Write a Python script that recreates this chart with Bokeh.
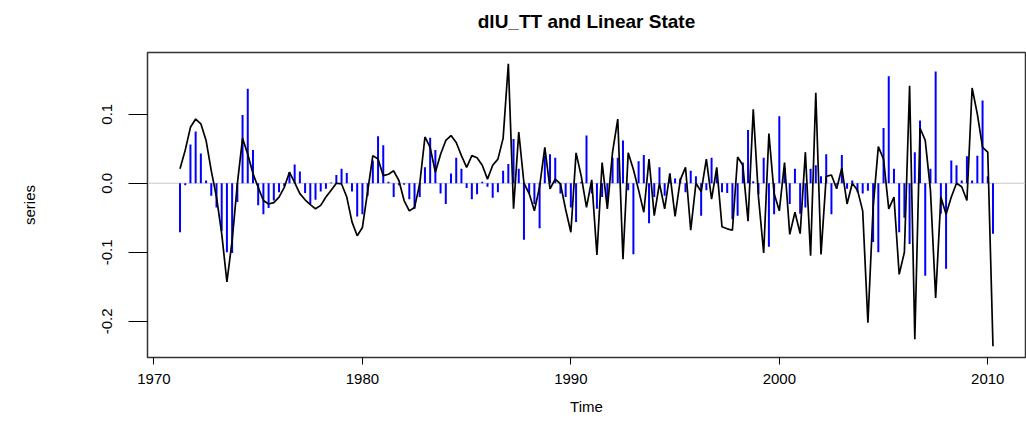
from bokeh.plotting import figure
from bokeh.models import Range1d, FixedTicker, PrintfTickFormatter, Span, Title
from bokeh.embed import file_html
from bokeh.resources import INLINE

# quarterly series starting 1971 Q2
start_year = 1971
start_quarter = 2
freq = 4

series = [
    -0.071, -0.003, 0.056, 0.075, 0.043, 0.004, -0.018, -0.035, -0.069, -0.100,
    -0.101, -0.027, 0.099, 0.137, 0.048, -0.032, -0.045, -0.036, -0.025, -0.013,
    -0.004, 0.016, 0.027, 0.017, -0.014, -0.030, -0.024, -0.012, -0.008, 0.001,
    0.012, 0.021, 0.015, -0.012, -0.048, -0.045, -0.018, 0.033, 0.068, 0.055,
    0.002, -0.020, -0.003, -0.002, -0.023, -0.037, -0.020, 0.023, 0.066, 0.048,
    -0.015, -0.030, 0.014, 0.037, 0.021, -0.007, -0.023, -0.016, 0.002, -0.005,
    -0.021, -0.013, 0.018, 0.028, 0.064, 0.021, -0.082, -0.015, -0.030, -0.065,
    0.040, 0.042, 0.037, -0.015, -0.020, -0.035, -0.056, 0.002, 0.069, -0.015,
    -0.037, -0.020, -0.024, 0.037, 0.037, 0.062, -0.010, -0.103, 0.032, 0.041,
    -0.058, -0.020, 0.023, -0.018, 0.014, 0.007, 0.007, -0.013, 0.018, 0.010,
    -0.047, -0.010, 0.037, 0.016, -0.013, -0.014, -0.052, -0.047, 0.030, 0.077,
    0.003, -0.016, 0.037, -0.092, -0.045, 0.097, 0.022, -0.030, 0.021, -0.044,
    -0.035, 0.021, 0.026, 0.010, 0.042, -0.045, -0.002, 0.041, -0.008, 0.004,
    -0.013, -0.015, -0.011, -0.085, -0.100, 0.080, 0.155, 0.021, -0.071, -0.050,
    -0.088, 0.045, 0.091, -0.134, 0.021, 0.162, -0.044, -0.124, 0.033, 0.026,
    0.004, 0.039, 0.004, 0.040, 0.120, 0.010, -0.073,
]

linear_state = [
    0.021, 0.048, 0.081, 0.093, 0.086, 0.062, 0.018, -0.020, -0.073, -0.143,
    -0.083, -0.001, 0.065, 0.042, 0.014, -0.006, -0.025, -0.030, -0.028, -0.020,
    -0.006, 0.016, 0.001, -0.015, -0.024, -0.031, -0.037, -0.032, -0.020, -0.010,
    0.000, -0.001, -0.020, -0.056, -0.076, -0.064, -0.012, 0.040, 0.035, 0.011,
    0.013, 0.018, 0.004, -0.025, -0.040, -0.035, -0.001, 0.067, 0.052, 0.016,
    0.042, 0.062, 0.069, 0.059, 0.040, 0.023, 0.040, 0.037, 0.026, 0.006,
    0.026, 0.035, 0.065, 0.173, -0.037, 0.074, 0.000, -0.015, -0.040, -0.005,
    0.052, -0.008, 0.006, -0.001, -0.038, -0.071, 0.044, 0.010, -0.035, 0.005,
    -0.104, 0.030, -0.037, 0.045, 0.093, -0.110, 0.044, 0.020, -0.010, -0.042,
    0.035, -0.047, 0.000, -0.037, 0.014, -0.048, 0.005, 0.023, -0.068, 0.000,
    -0.012, 0.035, -0.023, 0.023, -0.063, -0.066, -0.068, 0.038, 0.026, -0.055,
    0.107, -0.020, -0.101, 0.072, -0.015, -0.040, 0.030, -0.074, -0.042, -0.073,
    0.045, -0.105, 0.131, -0.103, 0.010, 0.012, -0.008, 0.022, -0.030, 0.000,
    -0.010, -0.040, -0.202, -0.035, 0.053, 0.035, -0.037, -0.020, -0.132, -0.100,
    0.141, -0.226, 0.080, 0.062, -0.010, -0.166, -0.020, -0.045, -0.020, 0.000,
    -0.005, -0.025, 0.138, 0.100, 0.052, 0.045, -0.236,
]

x_ticks = [1970, 1980, 1990, 2000, 2010]
y_ticks = [-0.2, -0.1, 0.0, 0.1]
title_text = "dlU_TT and Linear State"

n = len(series)
t0 = start_year + (start_quarter - 1) / freq
times = [t0 + k / freq for k in range(n)]

# R-style 4% range extension
def ext(lo, hi):
    d = (hi - lo) * 0.04
    return lo - d, hi + d

xlo, xhi = ext(min(times), max(times))
allv = series + linear_state
ylo, yhi = ext(min(allv), max(allv))

FONT = "Liberation Sans"

p = figure(width=1026, height=423, output_backend="svg", toolbar_location=None,
           x_range=Range1d(xlo, xhi), y_range=Range1d(ylo, yhi),
           min_border_left=147, min_border_right=1, min_border_top=52,
           min_border_bottom=66, background_fill_color="white",
           border_fill_color="white")

# spacer between frame and title
p.add_layout(Title(text=" ", text_font_size="17px", standoff=0), "above")
p.add_layout(Title(text=title_text, align="center", text_font=FONT,
                   text_font_size="19px", text_font_style="bold",
                   text_color="black", standoff=0), "above")

p.grid.visible = False
p.outline_line_color = "#333333"
p.outline_line_width = 1.5

zero = Span(location=0, dimension="width", line_color="#c8c8c8", line_width=1,
            level="underlay")
p.add_layout(zero)

p.segment(x0=times, y0=[0] * n, x1=times, y1=series, line_color="#0000ff",
          line_width=2)
p.line(times, linear_state, line_color="black", line_width=1.7)

xa = p.xaxis[0]
xa.ticker = FixedTicker(ticks=x_ticks)
xa.axis_line_color = None
xa.major_tick_in = 0
xa.major_tick_out = 7
xa.minor_tick_line_color = None
xa.major_tick_line_color = "black"
xa.major_label_text_font = FONT
xa.major_label_text_font_size = "15px"
xa.major_label_text_color = "black"
xa.major_label_standoff = 9
xa.axis_label = "Time"
xa.axis_label_text_font = FONT
xa.axis_label_text_font_size = "15px"
xa.axis_label_text_font_style = "normal"
xa.axis_label_text_color = "black"
xa.axis_label_standoff = 11

ya = p.yaxis[0]
ya.ticker = FixedTicker(ticks=y_ticks)
ya.formatter = PrintfTickFormatter(format="%.1f")
ya.axis_line_color = None
ya.major_tick_in = 0
ya.major_tick_out = 19
ya.minor_tick_line_color = None
ya.major_tick_line_color = "black"
ya.major_label_orientation = "vertical"
ya.major_label_text_font = FONT
ya.major_label_text_font_size = "15px"
ya.major_label_text_color = "black"
ya.major_label_standoff = 16
ya.axis_label = "series"
ya.axis_label_text_font = FONT
ya.axis_label_text_font_size = "15px"
ya.axis_label_text_font_style = "normal"
ya.axis_label_text_color = "black"
ya.axis_label_standoff = 62

open("out.html", "w").write(file_html(p, INLINE))
